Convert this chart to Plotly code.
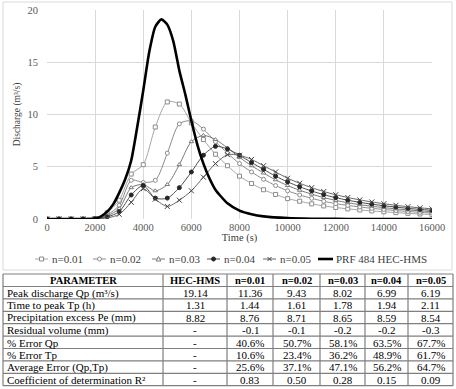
import plotly.graph_objects as go

W, H = 456, 389

# ---------------- data ----------------
time_s = [0, 500, 1000, 1500, 2000, 2500, 3000, 3500, 4000, 4500, 5000, 5500, 6000,
          6500, 7000, 7500, 8000, 8500, 9000, 9500, 10000, 10500, 11000, 11500, 12000,
          12500, 13000, 13500, 14000, 14500, 15000, 15500, 16000]

q_n001 = [0, 0, 0, 0, 0.05, 0.6, 1.8, 4.3, 5.2, 8.8, 11.2, 11.0, 9.2, 7.6, 6.2, 5.1, 4.1,
          3.4, 2.8, 2.35, 1.95, 1.7, 1.45, 1.25, 1.1, 0.97, 0.86, 0.77, 0.69, 0.61, 0.54, 0.48, 0.43]
q_n002 = [0, 0, 0, 0, 0.03, 0.4, 1.3, 3.7, 3.5, 3.7, 6.3, 9.1, 9.4, 8.6, 7.4, 6.3, 5.3,
          4.5, 3.8, 3.2, 2.7, 2.3, 1.98, 1.7, 1.47, 1.3, 1.15, 1.02, 0.91, 0.81, 0.72, 0.64, 0.57]
q_n003 = [0, 0, 0, 0, 0.02, 0.3, 1.0, 3.0, 3.3, 2.7, 3.3, 5.2, 7.4, 8.0, 7.6, 6.8, 5.9,
          5.1, 4.4, 3.75, 3.2, 2.75, 2.38, 2.05, 1.78, 1.56, 1.37, 1.22, 1.09, 0.97, 0.87, 0.78, 0.7]
q_n004 = [0, 0, 0, 0, 0.02, 0.2, 0.7, 2.3, 3.2, 2.0, 2.0, 3.0, 4.5, 6.1, 6.95, 6.7, 6.1,
          5.4, 4.75, 4.1, 3.55, 3.08, 2.68, 2.33, 2.04, 1.8, 1.59, 1.42, 1.27, 1.14, 1.02, 0.92, 0.83]
q_n005 = [0, 0, 0, 0, 0.01, 0.1, 0.45, 1.6, 2.9, 1.9, 1.2, 1.8, 2.7, 4.0, 5.3, 6.15, 6.1,
          5.7, 5.1, 4.5, 3.9, 3.42, 3.0, 2.63, 2.32, 2.06, 1.83, 1.63, 1.46, 1.31, 1.18, 1.07, 0.97]

time_hms = [0, 1000, 2000, 2250, 2500, 2750, 3000, 3250, 3500, 3750, 4000, 4250, 4500, 4750,
            5000, 5250, 5500, 5750, 6000, 6250, 6500, 6750, 7000, 7500, 8000, 8500, 9000,
            10000, 11000, 12000, 13000, 14000, 15000, 16000]
q_hms = [0, 0, 0.05, 0.25, 0.7, 1.4, 2.5, 3.8, 5.6, 8.8, 12.3, 16.0, 18.4, 19.1,
         18.6, 17.0, 14.2, 11.9, 9.4, 7.1, 5.3, 3.9, 2.8, 1.5, 0.8, 0.45, 0.25,
         0.08, 0.03, 0.01, 0, 0, 0, 0]

series_names = ["n=0.01", "n=0.02", "n=0.03", "n=0.04", "n=0.05"]
series_values = [q_n001, q_n002, q_n003, q_n004, q_n005]
hms_name = "PRF 484 HEC-HMS"

x_ticks = [0, 2000, 4000, 6000, 8000, 10000, 12000, 14000, 16000]
y_ticks = [0, 5, 10, 15, 20]

table_header = ["PARAMETER", "HEC-HMS", "n=0.01", "n=0.02", "n=0.03", "n=0.04", "n=0.05"]
table_params = ["Peak discharge Qp (m³/s)", "Time to peak Tp (h)", "Precipitation excess Pe (mm)",
                "Residual volume (mm)", "% Error Qp", "% Error Tp", "Average Error (Qp,Tp)",
                "Coefficient of determination R²"]
table_hms = ["19.14", "1.31", "8.82", "-", "-", "-", "-", "-"]
table_n001 = ["11.36", "1.44", "8.76", "-0.1", "40.6%", "10.6%", "25.6%", "0.83"]
table_n002 = ["9.43", "1.61", "8.71", "-0.1", "50.7%", "23.4%", "37.1%", "0.50"]
table_n003 = ["8.02", "1.78", "8.65", "-0.2", "58.1%", "36.2%", "47.1%", "0.28"]
table_n004 = ["6.99", "1.94", "8.59", "-0.2", "63.5%", "48.9%", "56.2%", "0.15"]
table_n005 = ["6.19", "2.11", "8.54", "-0.3", "67.7%", "61.7%", "64.7%", "0.09"]

# ---------------- styles ----------------
SERIF = "Liberation Serif, Times New Roman, serif"
line_colors = ["#a6a6a6", "#8c8c8c", "#7a7a7a", "#4d4d4d", "#666666"]
marker_symbols = ["square", "circle", "triangle-up", "circle", "x-thin"]
marker_fill = ["white", "white", "white", "#262626", "#404040"]
marker_line = ["#8c8c8c", "#8c8c8c", "#7a7a7a", "#262626", "#404040"]


def px(x):
    return x / W


def py(y):
    return 1 - y / H


fig = go.Figure()

for name, vals, lc, sym, mf, ml in zip(series_names, series_values, line_colors,
                                        marker_symbols, marker_fill, marker_line):
    fig.add_trace(go.Scatter(
        x=time_s, y=vals, name=name, mode="lines+markers",
        line=dict(color=lc, width=1, shape="spline", smoothing=0.8),
        marker=dict(symbol=sym, size=4 if sym != "x-thin" else 5, color=mf,
                    line=dict(color=ml, width=1)),
        showlegend=False))

fig.add_trace(go.Scatter(
    x=time_hms, y=q_hms, name=hms_name, mode="lines",
    line=dict(color="black", width=2.6, shape="spline", smoothing=0.6),
    showlegend=False))

# plot area: x 47..432 px, y 10..219 px
fig.update_layout(
    width=W, height=H,
    margin=dict(l=0, r=0, t=0, b=0, autoexpand=False),
    paper_bgcolor="white", plot_bgcolor="white",
    font=dict(family=SERIF, color="#404040"),
    xaxis=dict(domain=[px(47), px(432)], range=[0, 16000], tickvals=x_ticks,
               tickformat="d", automargin=False,
               showgrid=True, gridcolor="#d9d9d9", gridwidth=1, zeroline=False,
               showline=False, ticks="", ticklabelstandoff=0,
               tickfont=dict(family=SERIF, size=10.5, color="#595959"),
               title=dict(text="Time (s)", standoff=0,
                          font=dict(family=SERIF, size=10.5, color="#404040"))),
    yaxis=dict(domain=[py(219), py(10)], range=[0, 20], tickvals=y_ticks,
               automargin=False,
               showgrid=True, gridcolor="#d9d9d9", gridwidth=1, zeroline=False,
               showline=False, ticks="", ticklabelstandoff=8,
               tickfont=dict(family=SERIF, size=10.5, color="#595959"),
               title=dict(text="Discharge (m³/s)", standoff=5,
                          font=dict(family=SERIF, size=9.5, color="#404040"))),
)

shapes = []
annotations = []

# chart frame
shapes.append(dict(type="rect", xref="paper", yref="paper", x0=px(3), x1=px(452),
                   y0=py(270), y1=py(2), line=dict(color="#d9d9d9", width=1)))

# custom legend (layout decoration)
leg_y = 259
leg_sym_x = [35, 93, 152, 207, 263, 318]
for i, sx in enumerate(leg_sym_x):
    if i < 5:
        shapes.append(dict(type="line", xref="paper", yref="paper", x0=px(sx), x1=px(sx + 13),
                           y0=py(leg_y), y1=py(leg_y), line=dict(color=line_colors[i], width=1)))
        cx = sx + 6.5
        r = 2.0
        sym = marker_symbols[i]
        if sym == "square":
            shapes.append(dict(type="rect", xref="paper", yref="paper", x0=px(cx - r), x1=px(cx + r),
                               y0=py(leg_y + r), y1=py(leg_y - r), fillcolor=marker_fill[i],
                               line=dict(color=marker_line[i], width=1)))
        elif sym == "circle":
            shapes.append(dict(type="circle", xref="paper", yref="paper", x0=px(cx - r), x1=px(cx + r),
                               y0=py(leg_y + r), y1=py(leg_y - r), fillcolor=marker_fill[i],
                               line=dict(color=marker_line[i], width=1)))
        elif sym == "triangle-up":
            path = "M {} {} L {} {} L {} {} Z".format(px(cx - r - 0.3), py(leg_y + r), px(cx + r + 0.3),
                                                     py(leg_y + r), px(cx), py(leg_y - r - 0.5))
            shapes.append(dict(type="path", xref="paper", yref="paper", path=path,
                               fillcolor=marker_fill[i], line=dict(color=marker_line[i], width=1)))
        else:
            for d in (1, -1):
                shapes.append(dict(type="line", xref="paper", yref="paper", x0=px(cx - r), x1=px(cx + r),
                                   y0=py(leg_y - d * r), y1=py(leg_y + d * r),
                                   line=dict(color=marker_line[i], width=1)))
        label = series_names[i]
    else:
        shapes.append(dict(type="line", xref="paper", yref="paper", x0=px(sx), x1=px(sx + 15),
                           y0=py(leg_y), y1=py(leg_y), line=dict(color="black", width=2.6)))
        label = hms_name
    annotations.append(dict(xref="paper", yref="paper", x=px(sx + (15 if i < 5 else 16)), y=py(leg_y),
                            text=label, showarrow=False, xanchor="left", yanchor="middle",
                            font=dict(family=SERIF, size=11, color="#404040")))

# table drawn with layout shapes + annotations
col_x = [3, 163, 227, 273, 320, 365, 408, 453]
row_y = [274, 286.5]
for k in range(len(table_params)):
    row_y.append(286.5 + (k + 1) * 12.4)

for xv in col_x:
    shapes.append(dict(type="line", xref="paper", yref="paper", x0=px(xv), x1=px(xv),
                       y0=py(row_y[0]), y1=py(row_y[-1]), line=dict(color="#7f7f7f", width=1.2)))
for yv in row_y:
    shapes.append(dict(type="line", xref="paper", yref="paper", x0=px(col_x[0]), x1=px(col_x[-1]),
                       y0=py(yv), y1=py(yv), line=dict(color="#7f7f7f", width=1.2)))

# header
for c, htxt in enumerate(table_header):
    annotations.append(dict(xref="paper", yref="paper", x=px((col_x[c] + col_x[c + 1]) / 2),
                            y=py((row_y[0] + row_y[1]) / 2 + 0.5), text="<b>" + htxt + "</b>",
                            showarrow=False, xanchor="center", yanchor="middle", borderpad=0,
                            font=dict(family=SERIF, size=10.5, color="black")))

columns = [table_params, table_hms, table_n001, table_n002, table_n003, table_n004, table_n005]
for c, col in enumerate(columns):
    for r, txt in enumerate(col):
        yc = (row_y[r + 1] + row_y[r + 2]) / 2 + 0.3
        if c == 0:
            annotations.append(dict(xref="paper", yref="paper", x=px(col_x[0] + 3), y=py(yc),
                                    text=txt, showarrow=False, xanchor="left", yanchor="middle",
                                    borderpad=0,
                                    font=dict(family=SERIF, size=11, color="black")))
        else:
            annotations.append(dict(xref="paper", yref="paper", x=px((col_x[c] + col_x[c + 1]) / 2),
                                    y=py(yc), text=txt, showarrow=False, xanchor="center",
                                    yanchor="middle", borderpad=0,
                                    font=dict(family=SERIF, size=11, color="black")))

fig.update_layout(shapes=shapes, annotations=annotations)

fig.write_html("out.html", config={"displayModeBar": False},
               post_script="document.body.style.margin='0';")
